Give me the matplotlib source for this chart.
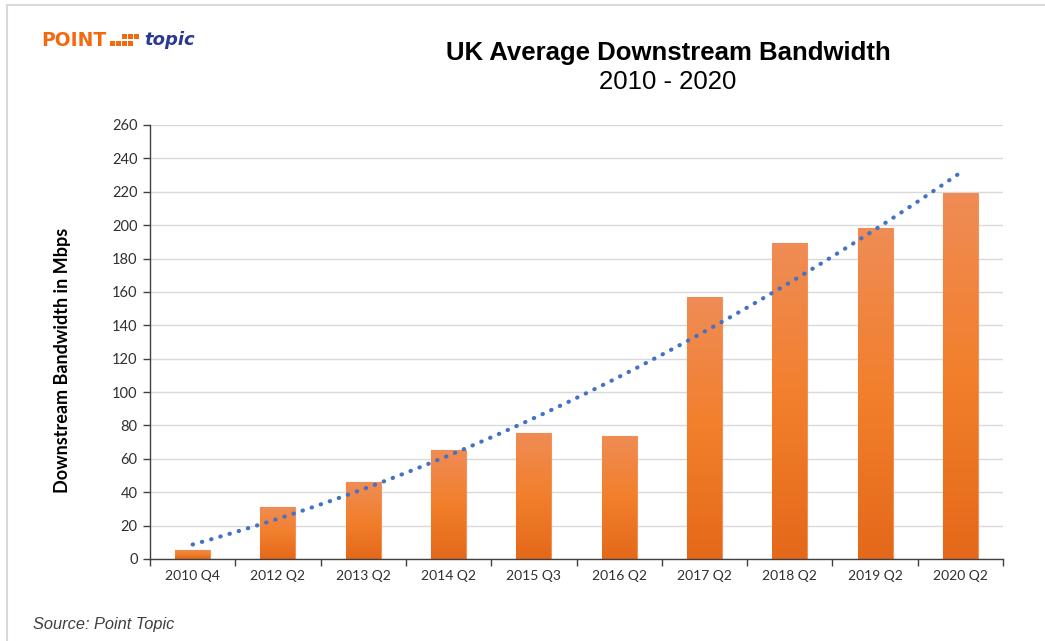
import numpy as np
import matplotlib
matplotlib.use("Agg")
from matplotlib import pyplot as plt
from matplotlib.patches import Rectangle
from matplotlib.lines import Line2D
from matplotlib.colors import LinearSegmentedColormap

# average downstream bandwidth, Mbps
quarters = ["2010 Q4", "2012 Q2", "2013 Q2", "2014 Q2", "2015 Q3",
            "2016 Q2", "2017 Q2", "2018 Q2", "2019 Q2", "2020 Q2"]
bandwidth = [5.5, 31, 46, 65.3, 75.5, 73.7, 156.7, 189.5, 198.5, 219]
y_ticks = list(range(0, 261, 20))

W, H = 1045, 641
fig = plt.figure(figsize=(W / 100, H / 100), dpi=100)
ax = fig.add_axes([150 / W, 1 - 559 / H, 853 / W, 434 / H])

x = np.arange(len(quarters))
bars = ax.bar(x, bandwidth, width=0.41, color="#F07E2C", edgecolor="#F0925A",
              linewidth=0.8, zorder=2)

# vertical shading on each bar, light at the top and darker at the base
grad = LinearSegmentedColormap.from_list("bar", ["#E4691A", "#F27F2C", "#EF8C55"])
for b in bars:
    x0, w, h = b.get_x(), b.get_width(), b.get_height()
    im = ax.imshow(np.linspace(0, 1, 256).reshape(-1, 1), cmap=grad, origin="lower",
                   extent=(x0, x0 + w, 0, h), aspect="auto", zorder=2.1)
    im.set_clip_path(b)

# second order polynomial trend, as spreadsheet trendlines do
coef = np.polyfit(x, bandwidth, 2)
xt = np.linspace(0, len(quarters) - 1, 200)
ax.plot(xt, np.polyval(coef, xt), color="#4472C4", linestyle=(0, (0.1, 2.2)),
        linewidth=3, dash_capstyle="round", zorder=3)

ax.set_xlim(-0.5, len(quarters) - 0.5)
ax.set_ylim(0, 260)
ax.set_yticks(y_ticks)
ax.set_xticks(x)
ax.set_xticklabels(quarters, fontfamily="Lato", fontsize=10, color="#303030")
ax.set_xticks(np.arange(-0.5, len(quarters), 1), minor=True)
ax.tick_params(axis="x", which="major", length=0, pad=8)
ax.tick_params(axis="x", which="minor", length=5, width=1, color="#404040")
ax.tick_params(axis="y", length=5, width=1, color="#404040", labelsize=10.5,
               labelcolor="#303030", pad=4)
for lab in ax.get_yticklabels():
    lab.set_fontfamily("Lato")
ax.grid(axis="y", color="#D9D9D9", linewidth=1, zorder=0)
ax.set_axisbelow(True)
for s in ["top", "right"]:
    ax.spines[s].set_visible(False)
for s in ["left", "bottom"]:
    ax.spines[s].set_color("#404040")
    ax.spines[s].set_linewidth(1)
ax.set_ylabel("Downstream Bandwidth in Mbps", fontfamily="Lato", fontweight="bold",
              fontsize=13, color="black")
ax.yaxis.set_label_coords((71 - 150) / 853, (559 - 360) / 434)

fig.text(668 / W, 1 - 53 / H, "UK Average Downstream Bandwidth", ha="center",
         va="center", fontfamily="Liberation Sans", fontweight="bold", fontsize=18.5)
fig.text(668 / W, 1 - 82 / H, "2010 - 2020", ha="center", va="center",
         fontfamily="Liberation Sans", fontsize=18.5)
fig.text(33 / W, 1 - 625 / H, "Source: Point Topic", ha="left", va="center",
         fontfamily="Liberation Sans", fontstyle="italic", fontsize=11.8, color="#404040")

# logo: POINT, block of squares, topic
fig.text(41 / W, 1 - 40 / H, "POINT", ha="left", va="center", fontfamily="DejaVu Sans",
         fontweight="bold", fontsize=13.5, color="#F26A10")
for sx, sy in [(110, 41), (116, 41), (122, 41), (128, 41), (122, 34), (128, 34), (134, 34)]:
    fig.add_artist(Rectangle((sx / W, 1 - (sy + 5) / H), 5 / W, 5 / H,
                             transform=fig.transFigure, color="#F26A10", lw=0))
fig.text(144 / W, 1 - 40 / H, "topic", ha="left", va="center", fontfamily="DejaVu Sans",
         fontweight="bold", fontstyle="italic", fontsize=13, color="#2B3990")

# light frame along the top and left edges
fig.add_artist(Line2D([7 / W, 1], [1 - 5 / H, 1 - 5 / H], transform=fig.transFigure,
                      color="#D9D9D9", lw=1.5))
fig.add_artist(Line2D([7 / W, 7 / W], [0, 1 - 5 / H], transform=fig.transFigure,
                      color="#D9D9D9", lw=1.5))

fig.savefig("out.png", dpi=100)
